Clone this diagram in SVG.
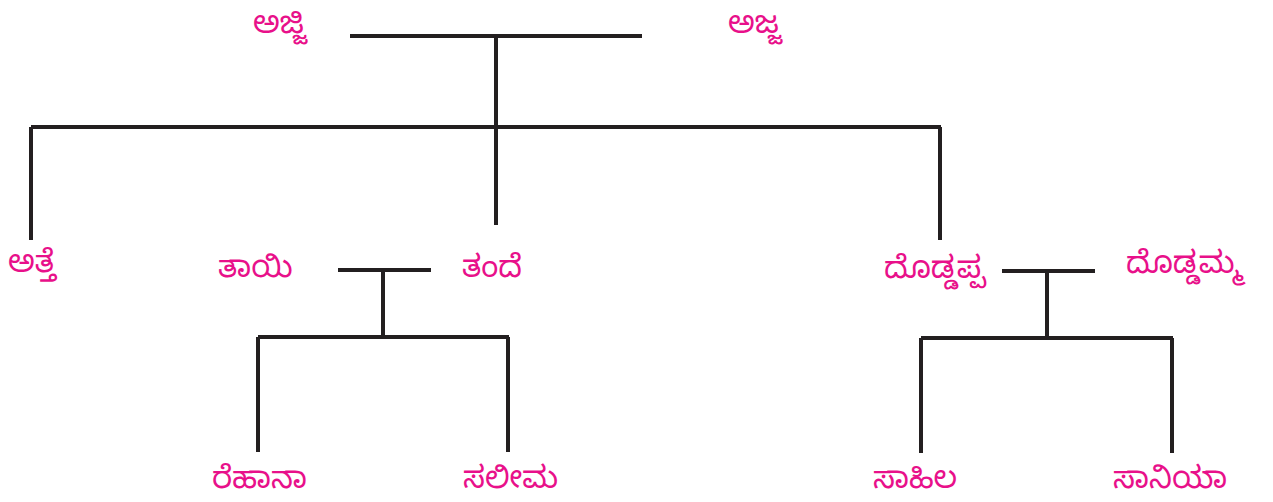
<svg xmlns="http://www.w3.org/2000/svg" width="1273" height="502" viewBox="0 0 1273 502">
<style>
.ln{stroke:#231f20;stroke-width:4;fill:none;stroke-linecap:butt}
.t{font-family:"Noto Sans Kannada","Noto Sans","Lohit Kannada","Tunga",sans-serif;font-size:31px;fill:#e8108a}
</style>
<rect width="1273" height="502" fill="#ffffff"/>
<g id="connectors">
<path class="ln" d="M350 36H642M496 36V127M31 127H941M31 127V240M496 127V225M940 127V240"/>
<path class="ln" d="M338 270H431M383 270V337M258 337H509M258 337V452M508 337V452"/>
<path class="ln" d="M1002 271H1095M1047 271V338M921 338H1173M921 338V453M1172 338V453"/>
</g>
<g id="ajji"><text class="t" x="253" y="33">ಅಜ್ಜಿ</text></g>
<g id="ajja"><text class="t" x="728" y="33">ಅಜ್ಜ</text></g>
<g id="atte"><text class="t" x="8" y="272">ಅತ್ತೆ</text></g>
<g id="tayi"><text class="t" x="218" y="277">ತಾಯಿ</text></g>
<g id="tande"><text class="t" x="462" y="277">ತಂದೆ</text></g>
<g id="doddappa"><text class="t" x="884" y="278">ದೊಡ್ಡಪ್ಪ</text></g>
<g id="doddamma"><text class="t" x="1126" y="273">ದೊಡ್ಡಮ್ಮ</text></g>
<g id="rehana"><text class="t" x="212" y="488">ರೆಹಾನಾ</text></g>
<g id="salima"><text class="t" x="463" y="488">ಸಲೀಮ</text></g>
<g id="sahila"><text class="t" x="873" y="488">ಸಾಹಿಲ</text></g>
<g id="saniya"><text class="t" x="1113" y="488">ಸಾನಿಯಾ</text></g>
</svg>
